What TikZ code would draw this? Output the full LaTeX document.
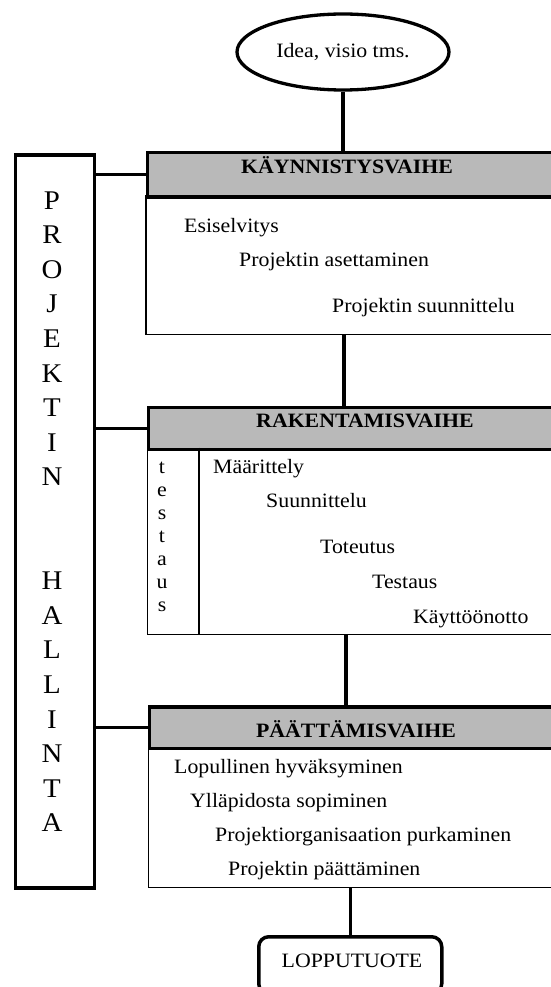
\documentclass[tikz,border=0pt]{standalone}
\usepackage{fontspec}
\setmainfont{Liberation Serif}
\usepackage{graphicx}
\usetikzlibrary{shapes.geometric}
\definecolor{headgray}{RGB}{185,185,185}
% slightly widened type, as in the printed chart
\newcommand{\widetype}[1]{\scalebox{1.07}[1]{#1}}
\newcommand{\bodysize}{\fontsize{20.4}{23}\selectfont}
\newcommand{\colsize}{\fontsize{27}{30}\selectfont}

\begin{document}
\begin{tikzpicture}[x=1pt,y=-1pt,
  thickline/.style={line width=3.5pt},
  phasehead/.style={draw, line width=3.5pt, fill=headgray, anchor=north west,
    minimum width=420pt, minimum height=44pt, inner sep=0pt},
  phasebody/.style={draw, line width=1.8pt, fill=white, anchor=north west,
    minimum width=420pt, inner sep=0pt},
  headtext/.style={anchor=base, inner sep=0pt, font=\bodysize\bfseries},
  itemtext/.style={anchor=base west, inner sep=0pt, font=\bodysize},
  coltext/.style={anchor=base, inner sep=0pt, font=\colsize},
  testtext/.style={anchor=base, inner sep=0pt, font=\bodysize}]

\useasboundingbox (0,0) rectangle (551,987);
\clip (0,0) rectangle (551,987);
\fill[white] (0,0) rectangle (551,987);

% start and end of the process
\node[ellipse, draw, line width=3.3pt, minimum width=212pt, minimum height=76pt,
  inner sep=0pt, font=\bodysize] (idea) at (343,52) {\widetype{Idea, visio tms.}};
\node[draw, line width=3.5pt, rounded corners=10pt, anchor=north west,
  minimum width=183pt, minimum height=57pt, inner sep=0pt]
  (lop) at (257,935) {};
\node[anchor=base, inner sep=0pt, font=\bodysize] (lopt) at (352,967) {\widetype{LOPPUTUOTE}};

% project management column
\node[draw, line width=3.8pt, anchor=north west, minimum width=79pt,
  minimum height=733pt, inner sep=0pt] (pm) at (13.5,153) {};
\foreach \ch [count=\k from 0] in {P,R,O,J,E,K,T,I,N}
  \node[coltext] (pm-a\k) at (52,209+34.6*\k) {\widetype{\ch}};
\foreach \ch [count=\k from 11] in {H,A,L,L,I,N,T,A}
  \node[coltext] (pm-b\k) at (52,209+34.6*\k) {\widetype{\ch}};

% phase 1
\node[phasebody, minimum height=138.5pt] (b1) at (145,195) {};
\node[phasehead] (h1) at (145.5,151) {};
\node[headtext] (h1t) at (347,174) {\widetype{KÄYNNISTYSVAIHE}};
\node[itemtext] (i11) at (184,232) {\widetype{Esiselvitys}};
\node[itemtext] (i12) at (239,266) {\widetype{Projektin asettaminen}};
\node[itemtext] (i13) at (332,312) {\widetype{Projektin suunnittelu}};

% phase 2
\node[phasebody, minimum height=186pt] (b2) at (146.5,447.5) {};
\node[phasehead, minimum height=42pt] (h2) at (146.5,405.5) {};
\node[headtext] (h2t) at (365,427) {\widetype{RAKENTAMISVAIHE}};
\draw[line width=1.8pt] (b2.north west -| 199,0) coordinate (tcol) -- (tcol |- b2.south);
\foreach \ch [count=\k from 0] in {t,e,s,t,a,u,s}
  \node[testtext] (t\k) at (162,473+23.1*\k) {\widetype{\ch}};
\node[itemtext] (i21) at (213,473) {\widetype{Määrittely}};
\node[itemtext] (i22) at (266,507) {\widetype{Suunnittelu}};
\node[itemtext] (i23) at (320,553) {\widetype{Toteutus}};
\node[itemtext] (i24) at (372,588) {\widetype{Testaus}};
\node[itemtext] (i25) at (413,623) {\widetype{Käyttöönotto}};

% phase 3
\node[phasebody, minimum height=140pt] (b3) at (147.5,746.5) {};
\node[phasehead, minimum height=41.5pt] (h3) at (147.5,705) {};
\node[headtext] (h3t) at (356,737) {\widetype{PÄÄTTÄMISVAIHE}};
\node[itemtext] (i31) at (174,773) {\widetype{Lopullinen hyväksyminen}};
\node[itemtext] (i32) at (190,807) {\widetype{Ylläpidosta sopiminen}};
\node[itemtext] (i33) at (215,841) {\widetype{Projektiorganisaation purkaminen}};
\node[itemtext] (i34) at (228,875) {\widetype{Projektin päättäminen}};

% main flow
\draw[thickline] (idea.south) -- (idea.south |- h1.north);
\draw[thickline] ([xshift=1pt]idea.south |- b1.south) -- ([xshift=1pt]idea.south |- h2.north);
\draw[thickline] ([xshift=3pt]idea.south |- b2.south) -- ([xshift=3pt]idea.south |- h3.north);
\draw[thickline] (lop.north |- b3.south) -- (lop.north);

% management links to each phase
\draw[line width=3pt] (h1.west -| pm.east) -- (h1.west);
\draw[line width=3pt] (h2.west -| pm.east) -- (h2.west);
\draw[line width=3pt] (h3.west -| pm.east) -- (h3.west);
\end{tikzpicture}
\end{document}
